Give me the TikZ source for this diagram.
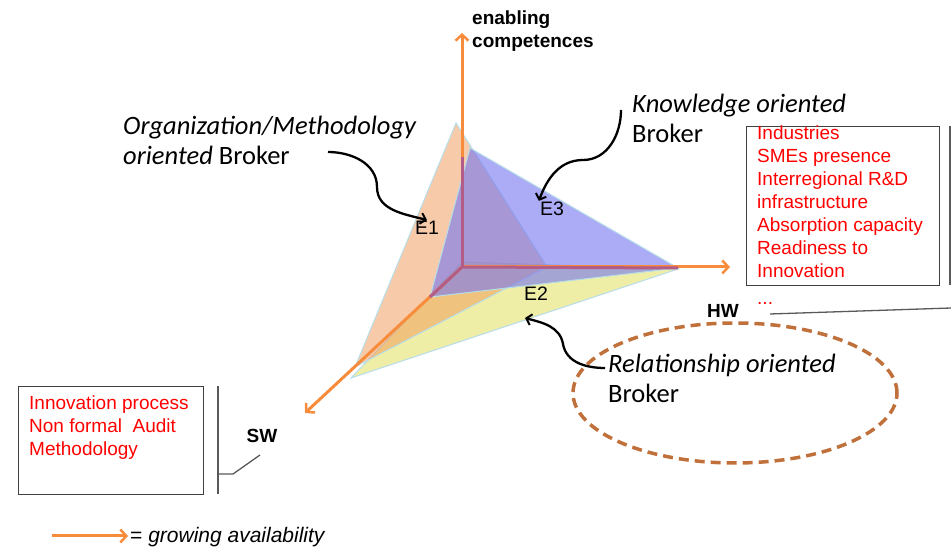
\documentclass[tikz,border=0pt]{standalone}
\usepackage{fontspec}
\setmainfont{Liberation Sans}
\newfontfamily\brokerfont{Carlito}
\usetikzlibrary{arrows.meta,positioning}

\definecolor{axisorange}{RGB}{247,140,60}
\definecolor{axisrose}{RGB}{178,92,135}
\definecolor{peach}{RGB}{240,150,85}
\definecolor{lilac}{RGB}{120,120,240}
\definecolor{lemon}{RGB}{222,222,80}
\definecolor{edgecyan}{RGB}{183,221,232}
\definecolor{ringbrown}{RGB}{192,112,58}

\begin{document}
\begin{tikzpicture}[x=1pt,y=1pt,
	axis/.style={axisorange,line width=3pt,-{Straight Barb[length=6pt,width=13pt,line width=2.5pt]}},
	inneraxis/.style={axisrose,line width=3pt},
	face/.style={draw=edgecyan,line width=1pt,fill opacity=0.5},
	cornertag/.style={font=\fontsize{19.5}{23}\selectfont,inner sep=1pt},
	axistag/.style={font=\bfseries\fontsize{19}{23}\selectfont,align=left,inner sep=0pt},
	brokertext/.style={font=\brokerfont\fontsize{26.5}{30}\selectfont,align=left,anchor=base west,inner sep=0pt},
	redlist/.style={red,font=\fontsize{19}{23}\selectfont,align=left,anchor=base west,inner sep=0pt},
	frame/.style={draw=black!75,line width=1pt,anchor=north west,inner sep=0pt},
	leader/.style={black!65,line width=1.3pt},
	pointer/.style={black,line width=2.3pt,-{Straight Barb[length=5pt,width=11pt,line width=2pt]}},
	ring/.style={ringbrown,line width=3.5pt,dash pattern=on 10pt off 6pt}]
	\useasboundingbox (0,0) rectangle (951,549);

	% axes
	\coordinate (O) at (462,282);
	\coordinate (up) at (462,516);
	\coordinate (hw) at (730,282);
	\coordinate (sw) at (305,136);

	% the three broker planes
	\filldraw[face,fill=lemon] (678,280) -- (351,171) -- (462,287) -- cycle;
	\filldraw[face,fill=peach] (456,426) -- (355,182) -- (547,282) -- cycle;
	\filldraw[face,fill=lilac,fill opacity=0.62] (470,401) coordinate (e3top) -- (678,281) coordinate (e3right) -- (430,252) coordinate (e3left) -- cycle;

	\draw[axis] (O) -- (up);
	\draw[axis] (O) -- (hw);
	\draw[axis] (O) -- (sw);
	\draw[inneraxis] (O) -- (462,392);
	\draw[inneraxis] (O) -- (e3right);
	\draw[inneraxis] (O) -- (e3left);

	\node[cornertag] (E1) at (427,321) {E1};
	\node[cornertag] (E3) at (552,340) {E3};
	\node[cornertag] (E2) at (536,255) {E2};

	\node[axistag,anchor=base west] (ectag) at (472,501) {enabling\\competences};
	\node[axistag] (hwtag) at (723,238) {HW};
	\node[axistag] (swtag) at (262,113) {SW};

	% brokers
	\node[brokertext] (orgtext) at (123,384) {{\itshape Organization/Methodology}\\{\itshape oriented} Broker};
	\node[brokertext] (kntext) at (632,406) {{\itshape Knowledge oriented}\\Broker};
	\node[brokertext] (reltext) at (608,146) {{\itshape Relationship oriented}\\Broker};
	\draw[ring] (735,156) ellipse [x radius=162,y radius=70];

	\coordinate (orgtail) at (328,397);
	\coordinate (kntail) at (621,439);
	\coordinate (reltail) at (605,181);
	\coordinate (e2tip) at (525,231);
	\draw[pointer] (orgtail) to[out=0,in=90] (377,362) to[out=-90,in=165] (E1.north);
	\draw[pointer] (kntail) to[out=-90,in=0] (583,389) to[out=180,in=70] (E3.north west);
	\draw[pointer] (reltail) to[out=180,in=-80] (563,205) to[out=100,in=-15] (e2tip);

	% HW list
	\node[frame,minimum width=193,minimum height=159.5] (hwbox) at (746,423.3) {};
	\node[redlist] (hwlist) at (757,271) {Industries\\SMEs presence\\Interregional R\&D\\infrastructure\\Absorption capacity\\Readiness to\\Innovation};
	\node[redlist] (hwmore) at (757,244) {...};
	\coordinate (hwbartop) at (950,423);
	\coordinate (hwbarbot) at (950,264);
	\coordinate (hwlead) at (770,235);
	\coordinate (hwleadend) at (951,241);
	\draw[leader] (hwbartop) -- (hwbarbot);
	\draw[leader] (hwlead) -- (hwleadend);

	% SW list
	\node[frame,minimum width=185,minimum height=108] (swbox) at (18,163) {};
	\node[redlist] (swlist) at (29,93) {Innovation process\\Non formal~ Audit\\Methodology};
	\coordinate (swbartop) at (218,163);
	\coordinate (swbarbot) at (218,55);
	\coordinate (swknee) at (233,75);
	\coordinate (swlead) at (260,94);
	\draw[leader] (swbartop) -- (swbarbot);
	\draw[leader] (218,75) -- (swknee) -- (swlead);

	% legend
	\coordinate (legtail) at (52,13);
	\coordinate (leghead) at (128,13);
	\draw[axis] (legtail) -- (leghead);
	\node[anchor=base west,inner sep=0pt,font=\fontsize{21}{25}\selectfont] (legend) at (130,6) {= \textit{growing availability}};
\end{tikzpicture}
\end{document}
